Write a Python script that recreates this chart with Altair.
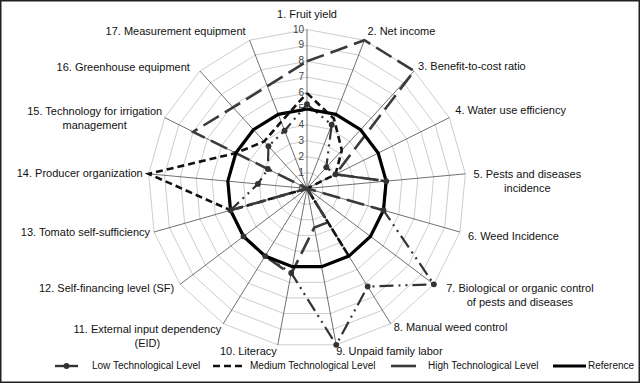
import altair as alt
import pandas as pd

categories = [
    "1. Fruit yield", "2. Net income", "3. Benefit-to-cost ratio",
    "4. Water use efficiency", "5. Pests and diseases\nincidence",
    "6. Weed Incidence", "7. Biological or organic control\nof pests and diseases",
    "8. Manual weed control", "9. Unpaid family labor", "10. Literacy",
    "11. External input dependency\n(EID)", "12. Self-financing level (SF)",
    "13. Tomato self-sufficiency", "14. Producer organization",
    "15. Technology for irrigation\nmanagement", "16. Greenhouse equipment",
    "17. Measurement equipment",
]
low = [5.3, 4.3, 1.8, 2.0, 5.0, 5.0, 10.0, 7.25, 10.0, 5.4, 5.0, 5.0, 5.0, 3.1, 2.75, 3.6, 3.9]
medium = [6.0, 4.7, 3.25, 2.0, 0.0, 0.0, 0.0, 5.0, 0.0, 0.0, 0.0, 0.0, 5.0, 10.0, 5.0, 4.0, 4.5]
high = [8.0, 10.0, 10.0, 2.0, 5.0, 5.0, 0.0, 2.5, 2.5, 5.5, 5.0, 5.0, 5.0, 0.0, 8.0, 6.9, 6.9]
reference = [5.0] * 17
series_names = ["Low Technological Level", "Medium Technological Level",
                "High Technological Level", "Reference"]
tick_labels = [str(v) for v in range(0, 11)]

N = len(categories)
W, H = 640, 383
CX, CY, UNIT = 307, 188.5, 15.9
xs = alt.Scale(domain=[-CX / UNIT, (W - CX) / UNIT], nice=False, zero=False)
ys = alt.Scale(domain=[-(H - CY) / UNIT, CY / UNIT], nice=False, zero=False)
FONT = "Liberation Sans"

ang = f"2*PI*datum.k/{N}"


def polar(chart, rfield="v"):
    return chart.transform_calculate(
        px=f"datum.{rfield}*sin({ang})", py=f"datum.{rfield}*cos({ang})"
    )


X = alt.X("px:Q", scale=xs, axis=None)
Y = alt.Y("py:Q", scale=ys, axis=None)

# grid rings
ring_rows = [{"ring": r, "k": k, "v": r} for r in range(1, 11) for k in range(N + 1)]
rings = polar(alt.Chart(pd.DataFrame(ring_rows))).mark_line(
    color="#b8b8b8", strokeWidth=0.7
).encode(x=X, y=Y, detail="ring:N", order="k:Q")

# spokes
spoke_df = pd.DataFrame({"k": list(range(N)), "v": [10] * N})
spokes = alt.Chart(spoke_df).transform_calculate(
    px=f"datum.v*sin({ang})", py=f"datum.v*cos({ang})", zero="0"
).mark_rule(color="#333", strokeWidth=0.7).encode(
    x=alt.X("zero:Q", scale=xs, axis=None), y=alt.Y("zero:Q", scale=ys, axis=None),
    x2="px:Q", y2="py:Q"
)

# tick labels along axis 1
tick_df = pd.DataFrame({"t": tick_labels, "v": [float(t) for t in tick_labels], "k": 0})
ticks = polar(alt.Chart(tick_df)).mark_text(
    align="right", baseline="middle", dx=-3, fontSize=10, font=FONT, color="#444"
).encode(x=X, y=Y, text="t:N")

# series
rows = []
for name, vals in zip(series_names, [low, medium, high, reference]):
    for k in range(N + 1):
        rows.append({"series": name, "k": k, "v": vals[k % N]})
sdf = pd.DataFrame(rows)


def series_line(name, **kw):
    return polar(alt.Chart(sdf).transform_filter(alt.datum.series == name)).mark_line(
        **kw).encode(x=X, y=Y, order="k:Q")


low_line = series_line(series_names[0], color="#333", strokeWidth=2.2,
                       strokeDash=[14, 5, 2, 5, 2, 5])
med_line = series_line(series_names[1], color="#111", strokeWidth=2.6, strokeDash=[7, 4])
high_line = series_line(series_names[2], color="#3a3a3a", strokeWidth=2.6,
                        strokeDash=[18, 7])
ref_line = series_line(series_names[3], color="#000", strokeWidth=3.2)
low_pts = polar(alt.Chart(sdf).transform_filter(
    (alt.datum.series == series_names[0]) & (alt.datum.k < N))).mark_circle(
    size=34, color="#333", opacity=1).encode(x=X, y=Y)

# category labels
lab_df = pd.DataFrame({"k": list(range(N)), "v": [10] * N, "label": categories})
label_style = [
    ("center", 0, -15), ("left", 3, -8), ("left", 4, -4), ("left", 6, -7),
    ("center", 62, 1), ("left", 8, 5), ("center", 86, 5), ("left", 3, 4.5),
    ("left", 0, 7.5), ("right", -1, 7.5), ("center", -76, 6), ("right", -6, 5),
    ("right", -4, 1), ("right", -6, 0), ("center", -70, -6), ("right", -10, -3),
    ("right", -4, -8),
]
label_layers = []
for k, (al, dx, dy) in enumerate(label_style):
    label_layers.append(
        polar(alt.Chart(lab_df).transform_filter(alt.datum.k == k)).mark_text(
            align=al, baseline="middle", dx=dx, dy=dy, fontSize=11, font=FONT,
            color="#111", lineBreak="\n", lineHeight=14
        ).encode(x=X, y=Y, text="label:N")
    )

# legend
LY = 366
leg = []
leg_items = [
    (series_names[0], 55, 78, 92, dict(color="#333", strokeWidth=2.4)),
    (series_names[1], 213, 246, 250, dict(color="#111", strokeWidth=2.6, strokeDash=[7, 4])),
    (series_names[2], 391, 416, 428, dict(color="#3a3a3a", strokeWidth=2.6)),
    (series_names[3], 553, 586, 588, dict(color="#000", strokeWidth=3.2)),
]
leg_df = pd.DataFrame({"name": series_names})
for name, x1, x2, tx, style in leg_items:
    base = alt.Chart(leg_df).transform_filter(alt.datum.name == name)
    leg.append(base.mark_rule(**style).encode(
        x=alt.value(x1), x2=alt.value(x2), y=alt.value(LY)))
    leg.append(base.mark_text(align="left", baseline="middle", fontSize=10, font=FONT,
                              color="#111").encode(
        x=alt.value(tx), y=alt.value(LY), text="name:N"))
    if name == series_names[0]:
        leg.append(base.mark_circle(size=34, color="#333", opacity=1).encode(
            x=alt.value((x1 + x2) / 2), y=alt.value(LY)))

chart = alt.layer(
    rings, spokes, ticks, low_line, med_line, high_line, ref_line, low_pts,
    *label_layers, *leg
).properties(
    width=W, height=H, padding=0, autosize=alt.AutoSizeParams(type="none"),
    background="white"
).configure_view(stroke="#222", strokeWidth=3)

chart.save("out.html", embed_options={"renderer": "svg", "actions": False})
